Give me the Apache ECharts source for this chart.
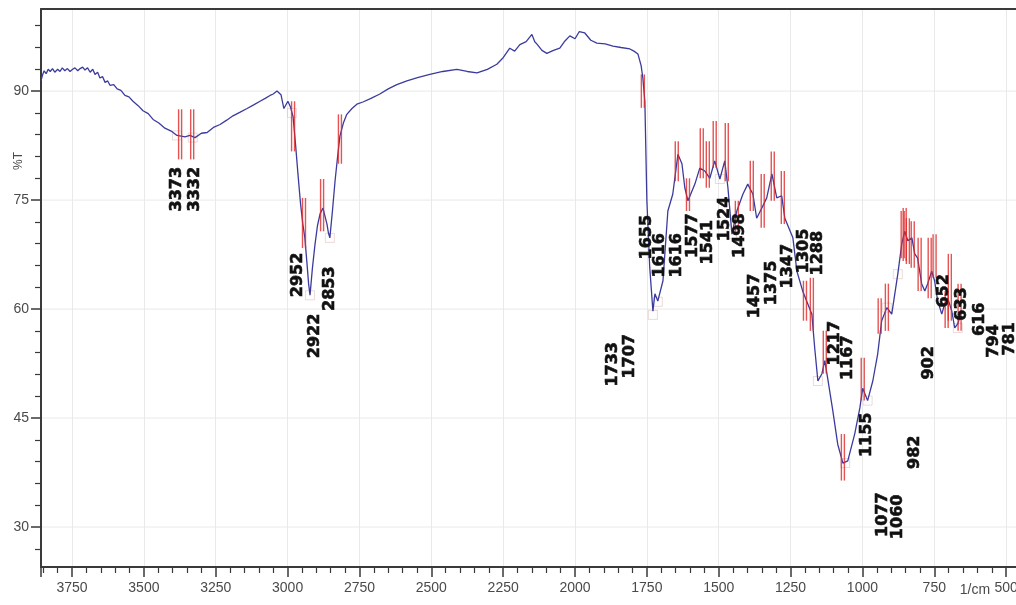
<!DOCTYPE html>
<html><head><meta charset="utf-8">
<script src="https://cdn.jsdelivr.net/npm/echarts@6/dist/echarts.min.js"></script>
<style>html,body{margin:0;padding:0;background:#fff}#c{width:1016px;height:605px}</style>
</head><body><div id="c"></div>
<script>
// Spectrum trace (wavenumber 1/cm, %T)
const wavenumbers = [3858,3852,3847,3840,3833,3826,3818,3810,3800,3792,3784,3775,3766,3757,3748,3740,3730,3722,3713,3705,
3696,3687,3678,3670,3661,3653,3644,3635,3626,3618,3605,3593,3580,3566,3552,3538,3520,3503,3485,3468,
3448,3427,3405,3385,3370,3357,3340,3322,3300,3280,3258,3235,3212,3190,3165,3141,3118,3096,3078,3061,
3050,3037,3023,3013,2999,2990,2981,2972,2964,2955,2947,2940,2933,2927,2922,2914,2905,2896,2887,2877,
2870,2863,2858,2853,2844,2835,2826,2818,2806,2794,2776,2759,2738,2710,2679,2650,2620,2585,2545,2505,
2460,2411,2375,2341,2305,2272,2250,2227,2210,2192,2170,2150,2140,2133,2115,2098,2075,2053,2035,2018,
2000,1985,1966,1945,1924,1895,1868,1840,1809,1795,1781,1770,1764,1757,1750,1740,1729,1722,1712,1694,
1677,1660,1642,1628,1618,1607,1583,1566,1548,1531,1514,1496,1479,1468,1454,1437,1416,1399,1381,1368,
1350,1333,1315,1298,1281,1270,1242,1228,1208,1190,1176,1166,1155,1141,1131,1121,1103,1086,1068,1051,
1027,1009,999,982,964,947,933,915,898,877,863,853,842,828,818,808,794,783,773,759,
749,738,724,714,703,689,679,668,655];
const transmittance = [91.4,92.3,92.8,92.4,93.0,92.7,93.1,92.6,93.0,92.7,93.2,92.8,93.1,92.7,93.0,93.2,92.8,93.1,93.3,92.9,
93.2,92.6,93.0,92.3,92.6,91.8,92.0,91.2,91.4,90.8,90.9,90.3,90.1,89.4,89.2,88.6,88.0,87.3,86.9,86.1,
85.6,84.9,84.5,83.9,83.8,83.7,83.9,83.6,84.2,84.3,85.0,85.4,86.0,86.6,87.1,87.6,88.1,88.6,89.0,89.4,
89.6,90.0,89.5,87.6,88.6,87.8,86.5,82.5,78.6,74.5,71.7,69.8,66.5,63.5,61.9,65.5,68.8,71.5,73.1,73.9,
72.8,71.7,70.5,69.8,73.5,77.6,81.0,83.8,85.6,86.8,87.6,88.2,88.5,89.0,89.6,90.3,90.9,91.4,91.9,92.3,
92.7,93.0,92.7,92.5,93.0,93.7,94.6,95.9,95.5,96.4,96.8,97.8,96.8,96.5,95.6,95.2,95.6,95.9,96.9,97.6,
97.2,98.2,98.0,97.0,96.6,96.5,96.2,96.0,95.8,95.5,95.1,93.5,91.8,88.6,74.9,65.7,59.7,62.1,61.1,63.9,
73.5,75.8,81.3,80.0,76.7,74.9,77.2,79.4,79.0,78.0,80.4,77.9,80.4,76.7,70.3,73.5,75.8,77.2,75.8,72.5,
73.9,75.3,78.6,75.3,75.6,72.5,69.8,65.2,62.5,60.7,59.3,54.6,50.1,51.1,52.9,50.5,46.0,41.4,38.8,39.1,
42.8,46.4,49.1,47.4,50.1,53.8,58.4,60.2,59.3,64.8,69.0,70.7,69.4,69.8,67.6,67.0,63.5,62.5,63.5,65.2,
63.9,61.1,59.3,60.7,61.5,59.7,57.4,58.0,59.7];

// Peak marker bars (red ticks): wavenumber, top %T, bottom %T
const markerWn     = [3374,3332,2981,2943,2880,2818,1764,1646,1607,1559,1538,1514,1472,1437,1385,1347,1312,1277,1200,1176,1131,1068,999,940,915,860,853,842,825,801,766,749,707,696,662];
const markerTop    = [87.5,87.5,88.6,75.3,77.9,86.8,92.3,83.1,78.0,84.9,83.1,85.9,85.6,74.9,80.4,78.6,81.7,79.0,63.9,64.3,57.0,42.8,53.3,61.5,63.5,73.5,73.9,72.5,72.1,69.8,69.8,70.3,62.5,67.6,63.5];
const markerBottom = [80.6,80.6,81.7,68.4,70.7,80.0,87.7,77.6,73.5,78.0,76.7,79.4,77.6,70.3,73.5,71.2,74.9,71.7,58.4,57.0,51.1,36.4,47.4,56.6,57.0,67.0,66.6,66.2,65.7,62.5,61.5,64.3,57.4,58.4,57.0];

// Faint peak boxes (wavenumber, %T)
const boxWn = [3385,3330,2922,2853,2985,1729,1712,1496,1454,1155,1060,982,915,877,668];
const boxT  = [83.9,83.6,61.9,69.8,87.0,59.2,61.0,77.9,70.3,50.1,38.8,47.4,60.2,64.8,57.4];

// Peak labels as printed on the chart, with where they sit (wavenumber, %T)
const peakLabels = ['3373','3332','2952','2922','2853','1733','1707','1655','1616','1616','1577','1541','1524','1498','1457','1375','1347','1305','1288','1217','1167','1155','1077','1060','982','902','652','633','616','794','781'];
const labelWn = [3385,3322,2964,2905,2853,1868,1809,1750,1705,1646,1590,1538,1479,1427,1375,1315,1260,1204,1155,1096,1051,985,929,877,818,769,717,655,592,543,488];
const labelT  = [76.5,76.5,64.7,56.3,62.8,52.4,53.5,69.9,67.4,67.4,70.1,69.2,72.4,70.1,61.8,63.6,65.9,68.0,67.7,55.3,53.3,42.7,31.7,31.4,40.3,52.6,62.5,60.7,58.6,55.6,55.9];

// Axis ticks
const yTickLabels = [30,45,60,75,90];
const yMinorTicks = [27,33,36,39,42,48,51,54,57,63,66,69,72,78,81,84,87,93,96,99];

const X_MIN = 250, X_MAX = 3858, X_STEP = 250;
const Y_MIN = 24.5, Y_MAX = 101.3;

const chart = echarts.init(document.getElementById('c'), null, {renderer:'canvas'});
const lineData = wavenumbers.map((w,i)=>[w, transmittance[i]]);
const markerData = markerWn.map((w,i)=>[w, markerTop[i], markerBottom[i]]);
const labelData = labelWn.map((w,i)=>[w, labelT[i]]);
const boxData = boxWn.map((w,i)=>[w, boxT[i]]);
const hGridData = yTickLabels.map(v=>[X_MAX, v]);

const gridLineColor = '#e9e9e9';
const axisColor = '#3a3a3a';
chart.setOption({
  animation:false,
  backgroundColor:'#ffffff',
  grid:{left:41, top:9, right:-62, bottom:38, containLabel:false, outerBoundsMode:'none'},
  xAxis:[{
    type:'value', min:X_MIN, max:X_MAX, interval:X_STEP, inverse:true,
    axisLine:{show:true, onZero:false, lineStyle:{color:axisColor, width:2}},
    axisTick:{show:true, length:10, lineStyle:{color:axisColor, width:1.5}},
    minorTick:{show:true, splitNumber:5, length:6, lineStyle:{color:axisColor, width:1.2}},
    axisLabel:{show:true, margin:14, color:'#4a4a4a', fontSize:14, fontFamily:'Liberation Sans, Arial, sans-serif',
      formatter:v => v===X_MAX ? '' : String(v)},
    splitLine:{show:true, lineStyle:{color:gridLineColor, width:1}}
  },{
    type:'value', position:'top', min:X_MIN, max:X_MAX, inverse:true,
    axisLine:{show:true, onZero:false, lineStyle:{color:axisColor, width:2}},
    axisTick:{show:false}, axisLabel:{show:false}, splitLine:{show:false}
  }],
  yAxis:[{
    type:'value', min:Y_MIN, max:Y_MAX, position:'left',
    axisLine:{show:true, onZero:false, lineStyle:{color:axisColor, width:2}},
    axisTick:{show:true, length:10, customValues:yTickLabels, lineStyle:{color:axisColor, width:1.5}},
    axisLabel:{show:true, margin:12, customValues:yTickLabels, color:'#4a4a4a', fontSize:14, fontFamily:'Liberation Sans, Arial, sans-serif'},
    splitLine:{show:false}
  },{
    type:'value', min:Y_MIN, max:Y_MAX, position:'left',
    axisLine:{show:false},
    axisTick:{show:true, length:6, customValues:yMinorTicks, lineStyle:{color:axisColor, width:1.2}},
    axisLabel:{show:false},
    splitLine:{show:false}
  }],
  graphic:[
    {type:'text', x:19, y:161, rotation:Math.PI/2, style:{text:'%T', fill:'#4a4a4a', font:'12px Liberation Sans', align:'center', verticalAlign:'middle'}},
    {type:'text', x:975, y:590, style:{text:'1/cm', fill:'#4a4a4a', font:'14px Liberation Sans', align:'center', verticalAlign:'middle'}}
  ],
  series:[
    {
      type:'custom', data:hGridData, encode:{x:0, y:1}, z:0, silent:true,
      renderItem:(params, api) => {
        const a = api.coord([X_MAX, api.value(1)]);
        const b = api.coord([X_MIN, api.value(1)]);
        return {type:'line', shape:{x1:a[0], y1:a[1], x2:b[0], y2:b[1]}, style:{stroke:gridLineColor, lineWidth:1}};
      }
    },
    {
      type:'scatter', data:boxData, symbol:'rect', symbolSize:[9,9], z:2, silent:true,
      itemStyle:{color:'rgba(255,255,255,0)', borderColor:'rgba(215,170,170,0.55)', borderWidth:1}
    },
    {
      type:'line', data:lineData, showSymbol:false, symbol:'none', smooth:false,
      lineStyle:{color:'#3b3b9e', width:1.3}, z:3
    },
    {
      type:'custom', data:markerData, encode:{x:0, y:[1,2]}, z:4,
      renderItem:(params, api) => {
        const a = api.coord([api.value(0), api.value(1)]);
        const b = api.coord([api.value(0), api.value(2)]);
        const st = {stroke:'rgba(222,40,40,0.8)', lineWidth:1.4};
        return {type:'group', children:[
          {type:'line', shape:{x1:a[0]-1.5, y1:a[1], x2:b[0]-1.5, y2:b[1]}, style:st},
          {type:'line', shape:{x1:a[0]+1.5, y1:a[1], x2:b[0]+1.5, y2:b[1]}, style:st}
        ]};
      }
    },
    {
      type:'custom', data:labelData, encode:{x:0, y:1}, z:5,
      renderItem:(params, api) => {
        const p = api.coord([api.value(0), api.value(1)]);
        return {type:'text', x:p[0], y:p[1], rotation:Math.PI/2,
          style:{text:peakLabels[params.dataIndex], fill:'#111', stroke:'#111', lineWidth:0.6,
            font:'bold 16px DejaVu Sans', align:'center', verticalAlign:'middle'}};
      }
    }
  ]
});
</script></body></html>
